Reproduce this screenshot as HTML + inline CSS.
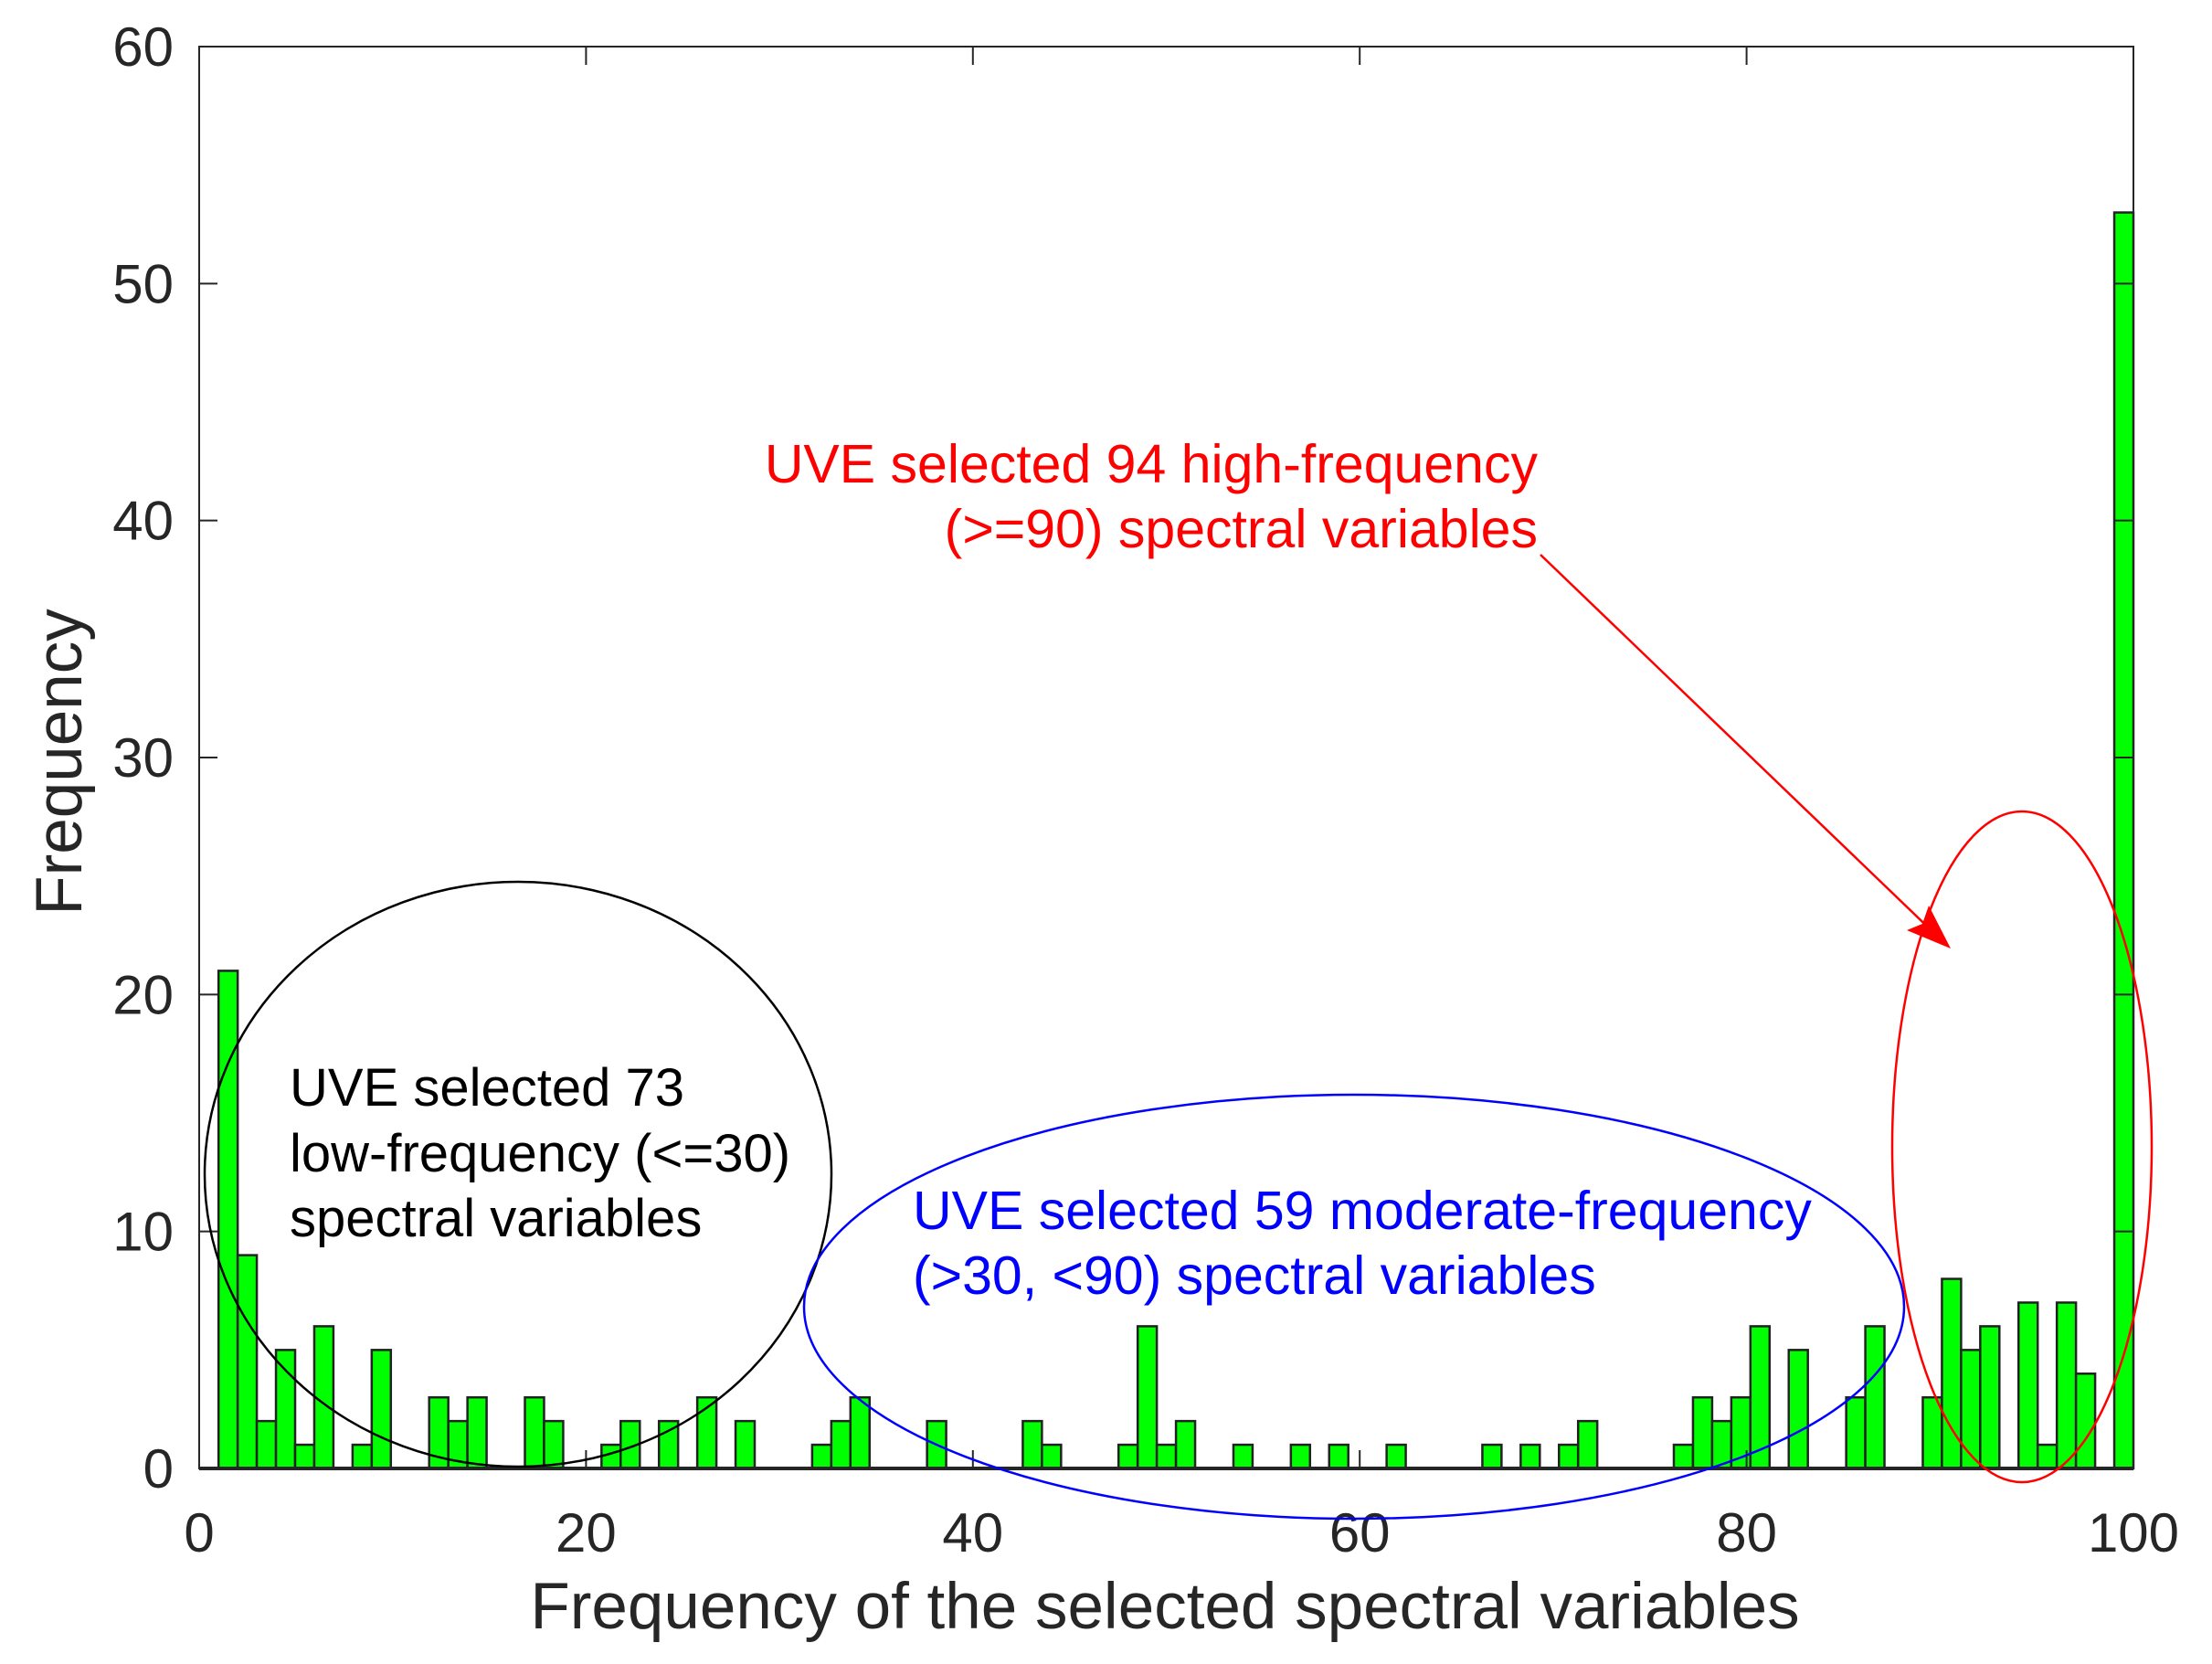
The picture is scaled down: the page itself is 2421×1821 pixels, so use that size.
<!DOCTYPE html>
<html><head><meta charset="utf-8"><style>
html,body{margin:0;padding:0;background:#fff}
svg{display:block}
text{font-family:"Liberation Sans",Arial,sans-serif}
</style></head><body>
<svg id="chart" width="2421" height="1821" viewBox="0 0 2421 1821" xmlns="http://www.w3.org/2000/svg">
<g id="bars"></g>
<g id="axes"></g>
<ellipse cx="567" cy="1285" rx="343" ry="320" fill="none" stroke="#000" stroke-width="2.5"/>
<ellipse cx="1482" cy="1430" rx="602" ry="232" fill="none" stroke="#0000ff" stroke-width="2.5"/>
<ellipse cx="2213" cy="1255" rx="142" ry="367" fill="none" stroke="#ff0000" stroke-width="2.5"/>
<line x1="1686" y1="607" x2="2124" y2="1028" stroke="#ff0000" stroke-width="2.5"/>
<polygon points="2135,1038 2087,1018 2104,1011 2111,991" fill="#ff0000"/>
<g font-size="58" fill="#000">
<text x="317" y="1210">UVE selected 73</text>
<text x="317" y="1282">low-frequency (&lt;=30)</text>
<text x="317" y="1353">spectral variables</text>
</g>
<g font-size="59" fill="#0000ff">
<text x="999" y="1345">UVE selected 59 moderate-frequency</text>
<text x="999" y="1416">(&gt;30, &lt;90) spectral variables</text>
</g>
<g font-size="59" fill="#ff0000" text-anchor="end">
<text x="1683" y="528">UVE selected 94 high-frequency</text>
<text x="1683" y="599">(&gt;=90) spectral variables</text>
</g>
<text x="1275" y="1782" font-size="71" text-anchor="middle" fill="#262626">Frequency of the selected spectral variables</text>
<text x="0" y="0" font-size="71" text-anchor="middle" fill="#262626" transform="translate(89,834) rotate(-90)">Frequency</text>
</svg>
<script>
// counts per bin (100 bins spanning 1..100)
const counts = [21,9,2,5,1,6,0,1,5,0, 0,3,2,3,0,0,3,2,0,0, 1,2,0,2,0,3,0,2,0,0,
 0,1,2,3,0,0,0,2,0,0, 0,0,2,1,0,0,0,1,6,1, 2,0,0,1,0,0,1,0,1,0,
 0,1,0,0,0,0,1,0,1,0, 1,2,0,0,0,0,1,3,2,3, 6,0,5,0,0,3,6,0,0,3,
 8,5,6,0,7,1,7,4,0,53];
const xTicks = [0,20,40,60,80,100];
const yTicks = [0,10,20,30,40,50,60];
const X0=218,X1=2335,Y0=1607,Y1=51;
const xs=v=>X0+(v/100)*(X1-X0);
const ys=v=>Y0-(v/60)*(Y0-Y1);
const NS='http://www.w3.org/2000/svg';
const bars=document.getElementById('bars'), axes=document.getElementById('axes');
const bw=0.99;
counts.forEach((c,i)=>{
  if(c<=0) return;
  const a=1+i*bw, b=a+bw;
  const r=document.createElementNS(NS,'rect');
  r.setAttribute('x',xs(a)); r.setAttribute('width',xs(b)-xs(a));
  r.setAttribute('y',ys(c)); r.setAttribute('height',ys(0)-ys(c));
  r.setAttribute('fill','#00ff00'); r.setAttribute('stroke','#222'); r.setAttribute('stroke-width','2.5');
  
  
  bars.appendChild(r);
});
const box=document.createElementNS(NS,'rect');
box.setAttribute('x',X0);box.setAttribute('y',Y1);box.setAttribute('width',X1-X0);box.setAttribute('height',Y0-Y1);
box.setAttribute('fill','none');box.setAttribute('stroke','#262626');box.setAttribute('stroke-width','2');


axes.appendChild(box);
const base=document.createElementNS(NS,'line');
base.setAttribute('x1',X0);base.setAttribute('x2',X1);base.setAttribute('y1',Y0);base.setAttribute('y2',Y0);
base.setAttribute('stroke','#262626');base.setAttribute('stroke-width','4');


axes.appendChild(base);
function ln(x1,y1,x2,y2){const l=document.createElementNS(NS,'line');l.setAttribute('x1',x1);l.setAttribute('y1',y1);l.setAttribute('x2',x2);l.setAttribute('y2',y2);l.setAttribute('stroke','#262626');l.setAttribute('stroke-width','2');


axes.appendChild(l);}
function tx(x,y,s,anchor){const t=document.createElementNS(NS,'text');t.setAttribute('x',x);t.setAttribute('y',y);t.setAttribute('font-size','60');t.setAttribute('fill','#262626');t.setAttribute('text-anchor',anchor);t.textContent=s;


axes.appendChild(t);}
xTicks.forEach(v=>{const x=xs(v);ln(x,Y0,x,Y0-20);ln(x,Y1,x,Y1+20);tx(x,1698,String(v),'middle');});
yTicks.forEach(v=>{const y=ys(v);ln(X0,y,X0+20,y);ln(X1,y,X1-20,y);tx(190,y+21,String(v),'end');});
</script>
</body></html>
